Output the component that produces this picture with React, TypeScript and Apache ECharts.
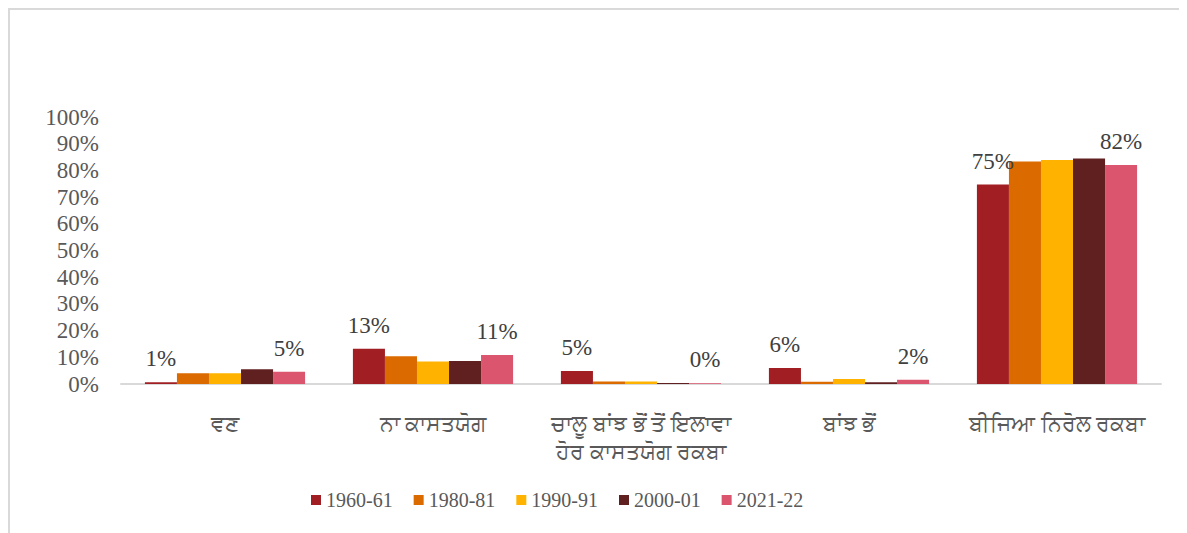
import React, { useEffect, useRef } from "react";
import * as echarts from "echarts";

const categories = [
  "ਵਣ",
  "ਨਾ ਕਾਸਤਯੋਗ",
  "ਚਾਲੂ ਬਾਂਝ ਭੋਂ ਤੋਂ ਇਲਾਵਾ\nਹੋਰ ਕਾਸਤਯੋਗ ਰਕਬਾ",
  "ਬਾਂਝ ਭੋਂ",
  "ਬੀਜਿਆ ਨਿਰੋਲ ਰਕਬਾ",
];
const seriesNames = ["1960-61", "1980-81", "1990-91", "2000-01", "2021-22"];
const s1960 = [0.7, 13.2, 4.9, 6.0, 74.7];
const s1980 = [4.0, 10.4, 0.9, 0.8, 83.3];
const s1990 = [4.0, 8.4, 0.9, 1.9, 83.9];
const s2000 = [5.5, 8.6, 0.4, 0.7, 84.5];
const s2021 = [4.6, 10.9, 0.3, 1.6, 82.0];
const colors = ["#A11F22", "#DB6A00", "#FFB300", "#602020", "#DC556E"];
const labelled = [true, false, false, false, true];

export default function App() {
  const ref = useRef<HTMLDivElement>(null);
  useEffect(() => {
    if (!ref.current) return;
    const chart = echarts.init(ref.current, null, { renderer: "svg" });
    const data = [s1960, s1980, s1990, s2000, s2021];
    chart.setOption({
      animation: false,
      color: colors,
      grid: { left: 111, right: 26, top: 107, bottom: 149, containLabel: false },
      legend: {
        left: 301,
        top: 480,
        padding: 0,
        itemWidth: 10,
        itemHeight: 10,
        itemGap: 21,
        icon: "rect",
        textStyle: {
          fontFamily: "'Liberation Serif', 'Times New Roman', serif",
          fontSize: 20,
          color: "#595959",
          padding: [0, 0, 0, 0],
        },
        data: seriesNames,
      },
      xAxis: {
        type: "category",
        data: categories,
        axisLine: { lineStyle: { color: "#d9d9d9", width: 2 } },
        axisTick: { show: false },
        axisLabel: {
          interval: 0,
          margin: 24,
          fontFamily: "'Noto Sans', sans-serif",
          fontSize: 22,
          lineHeight: 28,
          color: "#595959",
        },
      },
      yAxis: {
        type: "value",
        min: 0,
        max: 100,
        interval: 10,
        axisLine: { show: false },
        axisTick: { show: false },
        splitLine: { show: false },
        axisLabel: {
          formatter: "{value}%",
          margin: 22,
          fontFamily: "'Liberation Serif', 'Times New Roman', serif",
          fontSize: 23,
          color: "#595959",
        },
      },
      series: seriesNames.map((name, i) => ({
        name,
        type: "bar",
        data: data[i],
        barGap: "0%",
        barCategoryGap: "23%",
        itemStyle: { color: colors[i] },
        label: {
          show: labelled[i],
          position: "top",
          distance: 12,
          formatter: (p: any) => Math.round(p.value) + "%",
          fontFamily: "'Liberation Serif', 'Times New Roman', serif",
          fontSize: 23,
          color: "#404040",
        },
      })),
    });
    return () => chart.dispose();
  }, []);
  return (
    <div
      style={{
        width: 1179,
        height: 525,
        boxSizing: "border-box",
        borderTop: "2px solid #d9d9d9",
        borderLeft: "2px solid #d9d9d9",
        overflow: "hidden",
      }}
    >
      <div ref={ref} style={{ width: 1177, height: 523 }} />
    </div>
  );
}
